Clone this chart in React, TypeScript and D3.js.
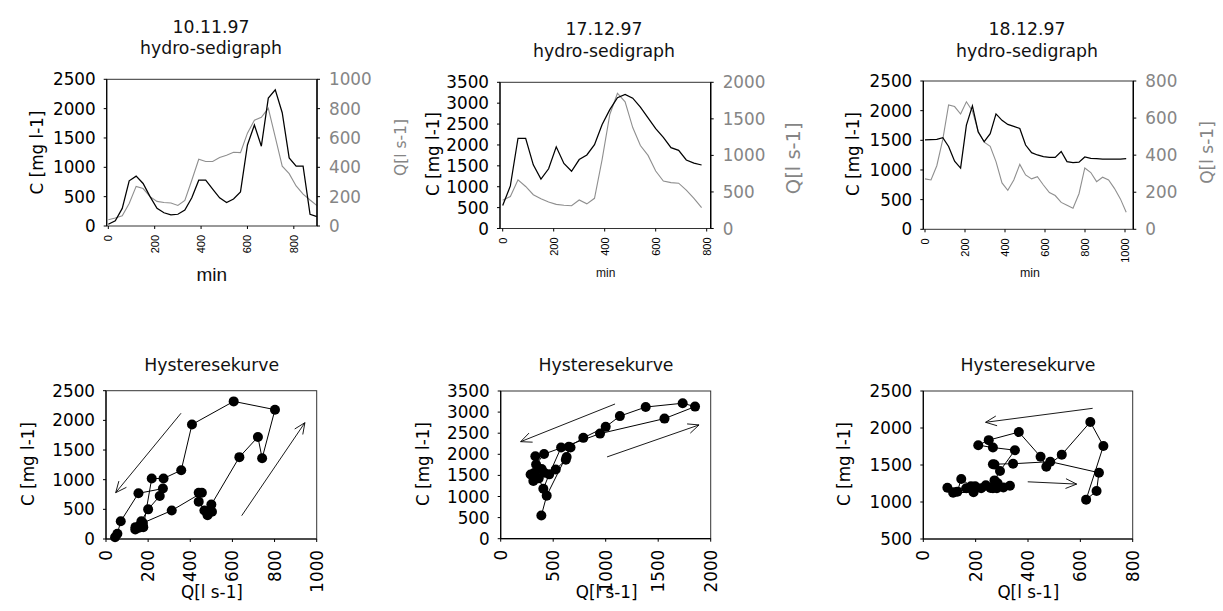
import React from 'react';
import * as d3 from 'd3';

// ---------- data ----------
const minutes1 = [0, 30, 60, 90, 120, 150, 180, 210, 240, 270, 300, 330, 360, 390, 420, 450, 480, 510, 540, 570, 600, 630, 660, 690, 720, 750, 780, 810, 840, 870, 900];
const conc1 = [30, 90, 300, 770, 850, 725, 500, 300, 225, 190, 200, 270, 480, 780, 780, 630, 480, 400, 460, 580, 1380, 1720, 1360, 2180, 2320, 1930, 1160, 1020, 1020, 200, 160];
const flow1 = [43, 54, 70, 154, 270, 255, 200, 168, 160, 157, 140, 175, 312, 455, 440, 440, 467, 482, 503, 500, 633, 721, 741, 802, 606, 408, 357, 273, 217, 177, 139];

const minutes2 = [0, 30, 60, 90, 120, 150, 180, 210, 240, 270, 300, 330, 360, 390, 420, 450, 480, 510, 540, 570, 600, 630, 660, 690, 720, 750, 780];
const conc2 = [550, 1020, 2160, 2160, 1525, 1185, 1430, 1955, 1558, 1370, 1650, 1760, 2005, 2490, 2846, 3130, 3210, 3120, 2905, 2650, 2390, 2180, 1935, 1870, 1640, 1565, 1520];
const flow2 = [387, 438, 665, 575, 462, 406, 362, 330, 318, 311, 390, 337, 413, 946, 1560, 1851, 1733, 1381, 1135, 1000, 787, 649, 628, 620, 524, 413, 285];

const minutes3 = [0, 30, 59, 89, 118, 148, 178, 207, 237, 266, 296, 326, 355, 385, 414, 444, 474, 503, 533, 562, 592, 622, 651, 681, 710, 740, 770, 799, 829, 858, 888, 918, 947, 977, 1006];
const conc3 = [1506, 1511, 1517, 1545, 1396, 1149, 1032, 1757, 2081, 1640, 1476, 1612, 1945, 1836, 1768, 1736, 1700, 1420, 1292, 1253, 1225, 1213, 1213, 1312, 1140, 1125, 1132, 1220, 1197, 1190, 1185, 1185, 1185, 1185, 1193];
const flow3 = [272, 266, 343, 485, 671, 662, 622, 688, 638, 529, 470, 448, 365, 250, 210, 266, 350, 293, 272, 284, 239, 198, 182, 145, 130, 114, 192, 331, 306, 257, 281, 266, 221, 164, 92];

const dates = ['10.11.97', '17.12.97', '18.12.97'];
const sediSubtitle = 'hydro-sedigraph';
const hystTitle = 'Hysteresekurve';
const cLabel = 'C [mg l-1]';
const qLabel = 'Q[l s-1]';
const timeLabel = 'min';

const timeTicks1 = [0, 200, 400, 600, 800];
const timeTicks2 = [0, 200, 400, 600, 800];
const timeTicks3 = [0, 200, 400, 600, 800, 1000];
const cTicks2500 = [0, 500, 1000, 1500, 2000, 2500];
const cTicks3500 = [0, 500, 1000, 1500, 2000, 2500, 3000, 3500];
const cTicks500to2500 = [500, 1000, 1500, 2000, 2500];
const qTicks1000 = [0, 200, 400, 600, 800, 1000];
const qTicks2000 = [0, 500, 1000, 1500, 2000];
const qTicks800 = [0, 200, 400, 600, 800];

// ---------- styles ----------
const DV = '"DejaVu Sans", sans-serif';
const AR = '"Liberation Sans", Arial, sans-serif';
const GREY_TEXT = '#858585';
const GREY_LINE = '#8f8f8f';
const FS = 16.8;
const TFS = 17.3;

type SediCfg = {
  t: number[]; c: number[]; q: number[];
  x0: number; x1: number; y0: number; y1: number;
  xDomain: [number, number]; cMax: number; qMax: number;
  xTicks: number[]; cTicks: number[]; qTicks: number[];
  date: string; titleX: number; titleY1: number; titleY2: number;
  minX: number; minY: number; minSize: number;
  qLabX: number; qLabY: number; qLabSize: number;
  cLabX: number; cLabY: number;
};

function Sedigraph({ cfg }: { cfg: SediCfg }) {
  const x = d3.scaleLinear().domain(cfg.xDomain).range([cfg.x0, cfg.x1]);
  const yC = d3.scaleLinear().domain([0, cfg.cMax]).range([cfg.y1, cfg.y0]);
  const yQ = d3.scaleLinear().domain([0, cfg.qMax]).range([cfg.y1, cfg.y0]);
  const lineC = d3.line<number>().x((_, i) => x(cfg.t[i])).y((d) => yC(d));
  const lineQ = d3.line<number>().x((_, i) => x(cfg.t[i])).y((d) => yQ(d));
  return (
    <g>
      <text x={cfg.titleX} y={cfg.titleY1} textAnchor="middle" fontFamily={DV} fontSize={TFS} fill="#111">{cfg.date}</text>
      <text x={cfg.titleX} y={cfg.titleY2} textAnchor="middle" fontFamily={DV} fontSize={TFS} fill="#111">{sediSubtitle}</text>
      <path d={lineQ(cfg.q) || ''} fill="none" stroke={GREY_LINE} strokeWidth={1.1} />
      <path d={lineC(cfg.c) || ''} fill="none" stroke="#000" strokeWidth={1.25} />
      <rect x={cfg.x0} y={cfg.y0} width={cfg.x1 - cfg.x0} height={cfg.y1 - cfg.y0} fill="none" stroke="#333" strokeWidth={1} />
      <line x1={cfg.x0} x2={cfg.x0} y1={cfg.y0} y2={cfg.y1} stroke="#000" strokeWidth={1.2} />
      <line x1={cfg.x1} x2={cfg.x1} y1={cfg.y0} y2={cfg.y1} stroke="#000" strokeWidth={1.4} />
      {cfg.cTicks.map((v) => (
        <g key={'c' + v}>
          <line x1={cfg.x0 - 3} x2={cfg.x0} y1={yC(v)} y2={yC(v)} stroke="#000" />
          <text x={cfg.x0 - 11} y={yC(v)} dy="0.36em" textAnchor="end" fontFamily={DV} fontSize={FS} fill="#000">{v}</text>
        </g>
      ))}
      {cfg.qTicks.map((v) => (
        <g key={'q' + v}>
          <line x1={cfg.x1} x2={cfg.x1 + 3} y1={yQ(v)} y2={yQ(v)} stroke="#000" />
          <text x={cfg.x1 + 12} y={yQ(v)} dy="0.36em" textAnchor="start" fontFamily={DV} fontSize={FS} fill={GREY_TEXT}>{v}</text>
        </g>
      ))}
      {cfg.xTicks.map((v) => (
        <g key={'t' + v}>
          <line x1={x(v)} x2={x(v)} y1={cfg.y1} y2={cfg.y1 + 3} stroke="#000" />
          <text transform={`translate(${x(v)},${cfg.y1 + 9}) rotate(-90)`} dy="0.36em" textAnchor="end" fontFamily={AR} fontSize={11} fill="#000">{v}</text>
        </g>
      ))}
      <text x={cfg.minX} y={cfg.minY} textAnchor="middle" fontFamily={AR} fontSize={cfg.minSize} fill="#111">{timeLabel}</text>
      <text transform={`translate(${cfg.cLabX},${cfg.cLabY}) rotate(-90)`} dy="0.36em" textAnchor="middle" fontFamily={DV} fontSize={FS} fill="#000">{cLabel}</text>
      <text transform={`translate(${cfg.qLabX},${cfg.qLabY}) rotate(-90)`} dy="0.36em" textAnchor="middle" fontFamily={DV} fontSize={cfg.qLabSize} fill={GREY_TEXT}>{qLabel}</text>
    </g>
  );
}

type Arrow = [number, number, number, number];
type HystCfg = {
  c: number[]; q: number[];
  x0: number; x1: number; y0: number; y1: number;
  xDomain: [number, number]; yDomain: [number, number];
  xTicks: number[]; yTicks: number[];
  titleX: number; titleY: number;
  qLabX: number; qLabY: number;
  cLabX: number; cLabY: number;
  arrows: Arrow[];
};

function Hysteresis({ cfg }: { cfg: HystCfg }) {
  const x = d3.scaleLinear().domain(cfg.xDomain).range([cfg.x0, cfg.x1]);
  const y = d3.scaleLinear().domain(cfg.yDomain).range([cfg.y1, cfg.y0]);
  const line = d3.line<number>().x((_, i) => x(cfg.q[i])).y((d) => y(d));
  return (
    <g>
      <text x={cfg.titleX} y={cfg.titleY} textAnchor="middle" fontFamily={DV} fontSize={TFS} fill="#111">{hystTitle}</text>
      <rect x={cfg.x0} y={cfg.y0} width={cfg.x1 - cfg.x0} height={cfg.y1 - cfg.y0} fill="none" stroke="#333" strokeWidth={1} />
      <line x1={cfg.x0} x2={cfg.x0} y1={cfg.y0} y2={cfg.y1} stroke="#000" strokeWidth={1.2} />
      <line x1={cfg.x0} x2={cfg.x1} y1={cfg.y1} y2={cfg.y1} stroke="#000" strokeWidth={1.2} />
      <path d={line(cfg.c) || ''} fill="none" stroke="#000" strokeWidth={1} />
      {cfg.c.map((d, i) => (
        <circle key={i} cx={x(cfg.q[i])} cy={y(d)} r={5} fill="#000" />
      ))}
      {cfg.arrows.map((a, i) => {
        const sx = x(a[0]), sy = y(a[1]), ex = x(a[2]), ey = y(a[3]);
        const ang = Math.atan2(ey - sy, ex - sx);
        const L = 12, w = 0.42;
        const p1 = [ex - L * Math.cos(ang - w), ey - L * Math.sin(ang - w)];
        const p2 = [ex - L * Math.cos(ang + w), ey - L * Math.sin(ang + w)];
        return (
          <g key={'a' + i} stroke="#000" strokeWidth={0.9} fill="none">
            <line x1={sx} y1={sy} x2={ex} y2={ey} />
            <polyline points={`${p1[0]},${p1[1]} ${ex},${ey} ${p2[0]},${p2[1]}`} />
          </g>
        );
      })}
      {cfg.yTicks.map((v) => (
        <g key={'y' + v}>
          <line x1={cfg.x0 - 3} x2={cfg.x0} y1={y(v)} y2={y(v)} stroke="#000" />
          <text x={cfg.x0 - 11} y={y(v)} dy="0.36em" textAnchor="end" fontFamily={DV} fontSize={FS} fill="#000">{v}</text>
        </g>
      ))}
      {cfg.xTicks.map((v) => (
        <g key={'x' + v}>
          <line x1={x(v)} x2={x(v)} y1={cfg.y1} y2={cfg.y1 + 3} stroke="#000" />
          <text transform={`translate(${x(v)},${cfg.y1 + 11}) rotate(-90)`} dy="0.36em" textAnchor="end" fontFamily={DV} fontSize={FS} fill="#000">{v}</text>
        </g>
      ))}
      <text x={cfg.qLabX} y={cfg.qLabY} textAnchor="middle" fontFamily={DV} fontSize={FS} fill="#000">{qLabel}</text>
      <text transform={`translate(${cfg.cLabX},${cfg.cLabY}) rotate(-90)`} dy="0.36em" textAnchor="middle" fontFamily={DV} fontSize={FS} fill="#000">{cLabel}</text>
    </g>
  );
}

const sediCfgs: SediCfg[] = [
  {
    t: minutes1, c: conc1, q: flow1,
    x0: 106.7, x1: 317, y0: 79.3, y1: 226,
    xDomain: [-7, 900], cMax: 2500, qMax: 1000,
    xTicks: timeTicks1, cTicks: cTicks2500, qTicks: qTicks1000,
    date: dates[0], titleX: 211, titleY1: 32.7, titleY2: 53.5,
    minX: 211.7, minY: 280.7, minSize: 19,
    qLabX: 400, qLabY: 147.5, qLabSize: 15.5,
    cLabX: 37, cLabY: 152.5,
  },
  {
    t: minutes2, c: conc2, q: flow2,
    x0: 500, x1: 710.7, y0: 82.3, y1: 228.5,
    xDomain: [-10.6, 815.7], cMax: 3500, qMax: 2000,
    xTicks: timeTicks2, cTicks: cTicks3500, qTicks: qTicks2000,
    date: dates[1], titleX: 604, titleY1: 35, titleY2: 56.7,
    minX: 605.7, minY: 276.7, minSize: 12,
    qLabX: 793, qLabY: 158.3, qLabSize: 19.5,
    cLabX: 433, cLabY: 154,
  },
  {
    t: minutes3, c: conc3, q: flow3,
    x0: 923.3, x1: 1133.3, y0: 81, y1: 229.3,
    xDomain: [-8.5, 1041.5], cMax: 2500, qMax: 800,
    xTicks: timeTicks3, cTicks: cTicks2500, qTicks: qTicks800,
    date: dates[2], titleX: 1027, titleY1: 35, titleY2: 56.7,
    minX: 1030, minY: 276.7, minSize: 12.4,
    qLabX: 1206.7, qLabY: 152.5, qLabSize: 17,
    cLabX: 853.3, cLabY: 154,
  },
];

const hystCfgs: HystCfg[] = [
  {
    c: conc1, q: flow1,
    x0: 106, x1: 316.7, y0: 390.7, y1: 539,
    xDomain: [0, 1000], yDomain: [0, 2500],
    xTicks: [0, 200, 400, 600, 800, 1000], yTicks: cTicks2500,
    titleX: 211.7, titleY: 370.7, qLabX: 212, qLabY: 598, cLabX: 28.3, cLabY: 464,
    arrows: [[356, 2120, 46, 781], [644, 393, 944, 1961]],
  },
  {
    c: conc2, q: flow2,
    x0: 500.7, x1: 710.7, y0: 391, y1: 538.7,
    xDomain: [0, 2000], yDomain: [0, 3500],
    xTicks: qTicks2000, yTicks: cTicks3500,
    titleX: 606, titleY: 370.7, qLabX: 606.7, qLabY: 598, cLabX: 422.5, cLabY: 464,
    arrows: [[1089, 3192, 190, 2299], [1013, 1938, 1889, 2696]],
  },
  {
    c: conc3, q: flow3,
    x0: 923.3, x1: 1132.7, y0: 391, y1: 539,
    xDomain: [0, 800], yDomain: [500, 2500],
    xTicks: qTicks800, yTicks: cTicks500to2500,
    titleX: 1028, titleY: 370.7, qLabX: 1028.3, qLabY: 598, cLabX: 844, cLabY: 464,
    arrows: [[647, 2266, 238, 2077], [399, 1273, 586, 1242]],
  },
];

export default function App() {
  return (
    <svg width={1223} height={611} style={{ position: 'absolute', left: 0, top: 0, background: '#fff' }}>
      <rect x={0} y={0} width={1223} height={611} fill="#fff" />
      {sediCfgs.map((c, i) => <Sedigraph key={'s' + i} cfg={c} />)}
      {hystCfgs.map((c, i) => <Hysteresis key={'h' + i} cfg={c} />)}
    </svg>
  );
}
